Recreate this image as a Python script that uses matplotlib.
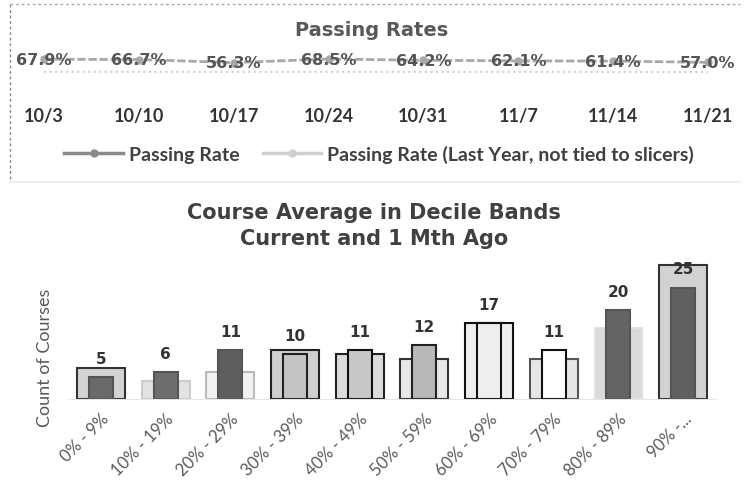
import matplotlib
matplotlib.use("Agg")
import matplotlib.pyplot as plt
from matplotlib.lines import Line2D

plt.rcParams['font.family'] = ['Lato', 'DejaVu Sans']

# top chart data
weeks = ['10/3', '10/10', '10/17', '10/24', '10/31', '11/7', '11/14', '11/21']
passing_rate = [67.9, 66.7, 56.3, 68.5, 64.2, 62.1, 61.4, 57.0]
passing_rate_last_year = [62.0, 61.5, 60.8, 61.2, 60.5, 61.0, 60.0, 59.5]

# bottom chart data
bands = ['0% - 9%', '10% - 19%', '20% - 29%', '30% - 39%', '40% - 49%',
         '50% - 59%', '60% - 69%', '70% - 79%', '80% - 89%', '90% -...']
current = [5, 6, 11, 10, 11, 12, 17, 11, 20, 25]
month_ago = [7, 4, 6, 11, 10, 9, 17, 9, 16, 30]

W, H = 747, 489
fig = plt.figure(figsize=(W / 100, H / 100), dpi=100)
HEAVY = ['DejaVu Sans']


def box(left, top, right, bottom):
    return [left / W, 1 - bottom / H, (right - left) / W, (bottom - top) / H]


# ---- Passing Rates ----
ax1 = fig.add_axes(box(15.5, 45, 736.5, 80))
x1 = range(len(weeks))
ax1.plot(x1, passing_rate, color='#a8a8a8', lw=2, ls=(0, (3, 1)), marker='o', ms=5, zorder=2)
for i, v in zip(x1, passing_rate):
    ax1.text(i, v, f'{v:.1f}%', ha='center', va='center', fontsize=11.5,
             fontweight='bold', family=HEAVY, color='#555555', zorder=3)
ax1.set_ylim(0, 120)
ax1.set_xlim(-0.3, len(weeks) - 0.7)
ax1.set_xticks(list(x1))
ax1.set_xticklabels(weeks, fontsize=13, fontweight='bold', color='#333333')
ax1.tick_params(axis='x', length=0, pad=20)
ax1.set_yticks([])
for s in ax1.spines.values():
    s.set_visible(False)

ax1b = ax1.twinx()
ax1b.plot(x1, passing_rate_last_year, color='#cfcfcf', lw=1.5, ls=':', zorder=1)
ax1b.set_ylim(0, 300)
ax1b.set_yticks([])
for s in ax1b.spines.values():
    s.set_visible(False)

fig.text(372 / W, 1 - 31 / H, 'Passing Rates', ha='center', va='center',
         fontsize=14, fontweight='bold', family=HEAVY, color='#595959')

handles = [Line2D([], [], color='#8a8a8a', lw=2.5, marker='o', ms=5),
           Line2D([], [], color='#d0d0d0', lw=2.5, marker='o', ms=5)]
fig.legend(handles, ['Passing Rate', 'Passing Rate (Last Year, not tied to slicers)'],
           loc='center', bbox_to_anchor=(379 / W, 1 - 155 / H), ncol=2, frameon=False,
           prop={'size': 14, 'weight': 'bold'}, labelcolor='#404040',
           handlelength=3, handletextpad=0.3, columnspacing=1.2)

# dashed frame of the upper panel
fig.add_artist(Line2D([10 / W, 10 / W], [1 - 5 / H, 1 - 180 / H], color='#888888',
                      lw=1, ls=(0, (2, 2))))
fig.add_artist(Line2D([10 / W, 740 / W], [1 - 5 / H, 1 - 5 / H], color='#aaaaaa',
                      lw=1, ls=(0, (2, 2))))
fig.add_artist(Line2D([10 / W, 740 / W], [1 - 183 / H, 1 - 183 / H], color='#eeeeee',
                      lw=1.5))

# ---- Course Average in Decile Bands ----
ax2 = fig.add_axes(box(68.6, 264, 715.5, 400))
x2 = list(range(len(bands)))
wide_fill = ['#d4d4d4', '#e2e2e2', '#f2f2f2', '#d0d0d0', '#dcdcdc',
             '#e8e8e8', '#eeeeee', '#e6e6e6', '#dadada', '#d2d2d2']
wide_edge = ['#333333', '#cccccc', '#bbbbbb', '#222222', '#222222',
             '#333333', '#111111', '#555555', '#e0e0e0', '#333333']
narrow_fill = ['#6a6a6a', '#6e6e6e', '#5e5e5e', '#c4c4c4', '#c8c8c8',
               '#b8b8b8', '#eeeeee', '#ffffff', '#646464', '#606060']
narrow_edge = ['#555555', '#555555', '#555555', '#222222', '#111111',
               '#222222', '#111111', '#111111', '#555555', '#555555']
ax2.bar(x2, month_ago, width=0.74, color=wide_fill, edgecolor=wide_edge, lw=1.5, zorder=1)
ax2.bar(x2, current, width=0.37, color=narrow_fill, edgecolor=narrow_edge, lw=1.5, zorder=2)
for i, v in zip(x2, current):
    ax2.annotate(str(v), (i, v), xytext=(0, 8), textcoords='offset points',
                 ha='center', va='bottom', fontsize=11, fontweight='bold',
                 family=HEAVY, color='#333333')
ax2.set_ylim(0, 30.5)
ax2.set_xlim(-0.5, len(bands) - 0.5)
ax2.set_xticks(x2)
ax2.set_xticklabels(bands, rotation=45, ha='right', rotation_mode='anchor',
                    fontsize=12, color='#595959')
ax2.tick_params(axis='x', length=0, pad=8)
ax2.set_yticks([])
for name, s in ax2.spines.items():
    s.set_visible(name == 'bottom')
ax2.spines['bottom'].set_color('#e6e6e6')

fig.text(45 / W, 1 - 358 / H, 'Count of Courses', rotation=90, ha='center',
         va='center', fontsize=13, color='#595959')
fig.text(374 / W, 1 - 213 / H, 'Course Average in Decile Bands', ha='center',
         va='center', fontsize=15, fontweight='bold', family=HEAVY, color='#404040')
fig.text(374 / W, 1 - 239 / H, 'Current and 1 Mth Ago', ha='center',
         va='center', fontsize=15, fontweight='bold', family=HEAVY, color='#404040')

fig.savefig('out.png', dpi=100)
